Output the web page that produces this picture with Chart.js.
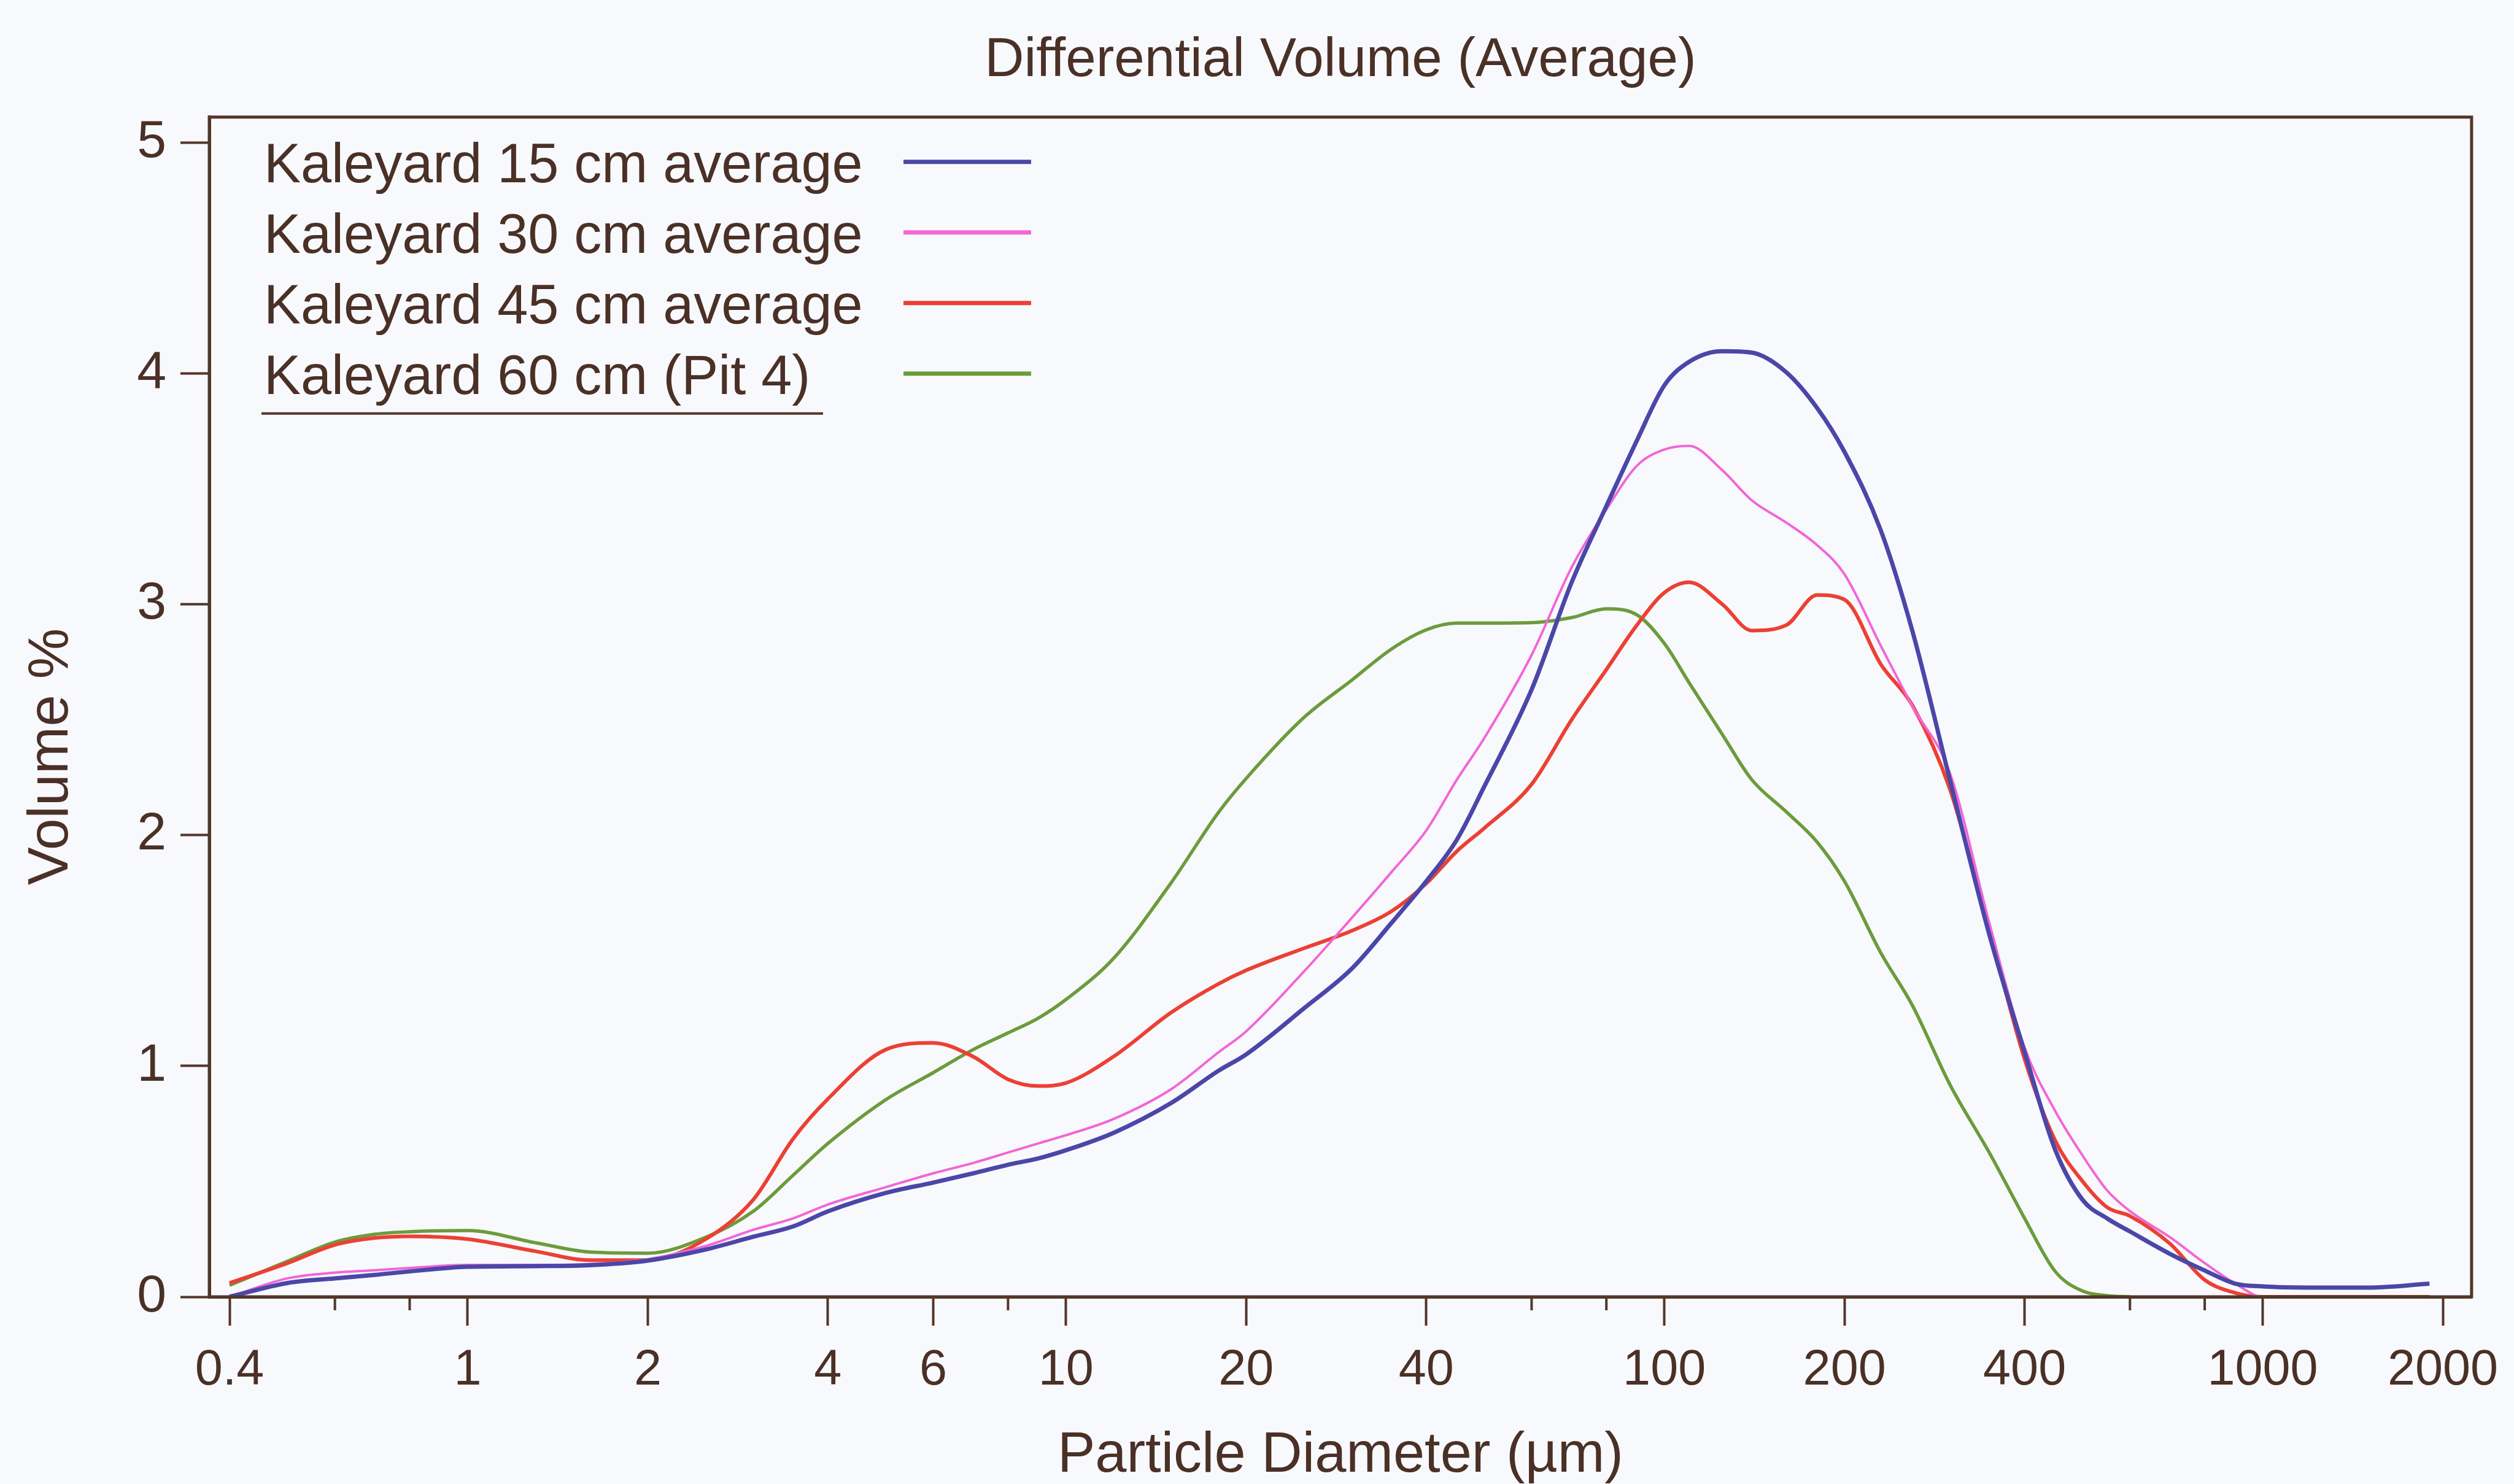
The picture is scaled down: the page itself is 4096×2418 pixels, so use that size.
<!DOCTYPE html>
<html>
<head>
<meta charset="utf-8">
<script src="https://cdn.jsdelivr.net/npm/chart.js@4.4.1/dist/chart.umd.min.js"></script>
<style>
  html, body { margin: 0; padding: 0; background: #f8f9fd; }
</style>
</head>
<body>
<canvas id="myChart" width="4096" height="2418"></canvas>
<script>
// particle diameter (µm), shared by all four curves
const sizes = [0.4, 0.5, 0.6, 0.7, 0.8, 1, 1.3, 1.6, 2, 2.5, 3, 3.5, 4, 5, 6, 7, 8, 9, 10, 12, 15, 18, 20, 25, 30, 35, 40, 45, 50, 60, 70, 80, 90, 100, 110, 125, 140, 160, 180, 200, 230, 260, 300, 350, 400, 450, 500, 550, 600, 700, 800, 900, 1000, 1200, 1500, 1900];

// volume % per size
const kaleyard15 = [0, 0.06, 0.08, 0.095, 0.11, 0.13, 0.133, 0.137, 0.157, 0.205, 0.26, 0.305, 0.37, 0.45, 0.495, 0.535, 0.572, 0.6, 0.635, 0.71, 0.84, 0.98, 1.05, 1.25, 1.42, 1.62, 1.8, 1.98, 2.21, 2.63, 3.095, 3.425, 3.71, 3.948, 4.05, 4.096, 4.09, 4.004, 3.85, 3.66, 3.32, 2.88, 2.24, 1.56, 1.06, 0.637, 0.42, 0.339, 0.283, 0.186, 0.114, 0.057, 0.045, 0.04, 0.04, 0.057];
const kaleyard30 = [0, 0.08, 0.105, 0.115, 0.125, 0.138, 0.138, 0.142, 0.163, 0.22, 0.29, 0.34, 0.4, 0.475, 0.535, 0.58, 0.625, 0.665, 0.7, 0.77, 0.9, 1.06, 1.15, 1.41, 1.64, 1.84, 2.02, 2.24, 2.42, 2.78, 3.16, 3.41, 3.6, 3.67, 3.686, 3.58, 3.45, 3.353, 3.256, 3.13, 2.82, 2.556, 2.27, 1.61, 1.08, 0.805, 0.612, 0.46, 0.371, 0.258, 0.146, 0.057, 0, 0, 0, 0];
const kaleyard45 = [0.06, 0.146, 0.225, 0.255, 0.262, 0.25, 0.197, 0.159, 0.159, 0.25, 0.42, 0.685, 0.857, 1.071, 1.1, 1.04, 0.942, 0.913, 0.926, 1.04, 1.232, 1.356, 1.414, 1.51, 1.585, 1.67, 1.79, 1.93, 2.03, 2.22, 2.5, 2.717, 2.91, 3.05, 3.095, 3.0, 2.886, 2.91, 3.04, 3.02, 2.74, 2.56, 2.2, 1.578, 1.03, 0.677, 0.5, 0.387, 0.35, 0.23, 0.073, 0.017, 0, 0, 0, 0];
const kaleyard60 = [0.05, 0.154, 0.237, 0.271, 0.282, 0.287, 0.234, 0.194, 0.189, 0.258, 0.37, 0.527, 0.664, 0.854, 0.971, 1.071, 1.143, 1.208, 1.288, 1.465, 1.795, 2.1, 2.245, 2.51, 2.67, 2.806, 2.889, 2.918, 2.918, 2.92, 2.942, 2.98, 2.954, 2.83, 2.66, 2.436, 2.24, 2.1, 1.97, 1.8, 1.49, 1.26, 0.92, 0.62, 0.34, 0.11, 0.025, 0.005, 0, null, null, null, null, null, null, null];

const seriesNames = ['Kaleyard 15 cm average', 'Kaleyard 30 cm average', 'Kaleyard 45 cm average', 'Kaleyard 60 cm (Pit 4)'];
const xTickValues = [0.4, 1, 2, 4, 6, 10, 20, 40, 100, 200, 400, 1000, 2000];
const xTickLabels = ['0.4', '1', '2', '4', '6', '10', '20', '40', '100', '200', '400', '1000', '2000'];
const xMinorTicks = [0.6, 0.8, 8, 60, 80, 600, 800];
const yTickValues = [0, 1, 2, 3, 4, 5];

const brown = '#533629';
const textColor = '#4a3026';
const FONT = "'Liberation Sans', Arial, sans-serif";

function points(values) {
  let out = [];
  sizes.forEach(function(s, i) {
    if (values[i] !== null) out.push({x: s, y: values[i]});
  });
  return out;
}

// frame, minor ticks, y title and the legend (text left, line sample right)
const extras = {
  id: 'extras',
  afterDraw: function(chart) {
    const ctx = chart.ctx;
    const area = chart.chartArea;
    const xs = chart.scales.x;
    ctx.save();
    ctx.strokeStyle = brown;
    ctx.lineWidth = 5;
    ctx.strokeRect(area.left, area.top, area.right - area.left, area.bottom - area.top);

    ctx.lineWidth = 4;
    xMinorTicks.forEach(function(v) {
      const px = xs.getPixelForValue(v);
      ctx.beginPath();
      ctx.moveTo(px, area.bottom);
      ctx.lineTo(px, area.bottom + 22);
      ctx.stroke();
    });

    ctx.fillStyle = textColor;
    ctx.font = '93px ' + FONT;
    ctx.textAlign = 'center';
    ctx.textBaseline = 'middle';
    ctx.translate(84, (area.top + area.bottom) / 2 + 81);
    ctx.rotate(-Math.PI / 2);
    ctx.fillText('Volume %', 0, 0);
    ctx.restore();

    ctx.save();
    ctx.font = '90px ' + FONT;
    ctx.textAlign = 'left';
    ctx.textBaseline = 'middle';
    chart.data.datasets.forEach(function(ds, i) {
      const y = area.top + 73 + i * 115;
      ctx.fillStyle = textColor;
      ctx.fillText(ds.label, area.left + 89, y + 8);
      ctx.strokeStyle = ds.borderColor;
      ctx.lineWidth = 7;
      ctx.beginPath();
      ctx.moveTo(area.left + 1131, y);
      ctx.lineTo(area.left + 1339, y);
      ctx.stroke();
    });
    ctx.strokeStyle = brown;
    ctx.lineWidth = 4;
    ctx.beginPath();
    ctx.moveTo(area.left + 85, area.top + 483);
    ctx.lineTo(area.left + 1000, area.top + 483);
    ctx.stroke();
    ctx.restore();
  }
};

new Chart('myChart', {
  type: 'line',
  data: {
    datasets: [
      {label: seriesNames[0], data: points(kaleyard15), borderColor: '#4b47a8', borderWidth: 7},
      {label: seriesNames[1], data: points(kaleyard30), borderColor: '#f266d6', borderWidth: 4},
      {label: seriesNames[2], data: points(kaleyard45), borderColor: '#ec4034', borderWidth: 6},
      {label: seriesNames[3], data: points(kaleyard60), borderColor: '#6b9c3c', borderWidth: 5.5}
    ]
  },
  options: {
    responsive: false,
    animation: false,
    devicePixelRatio: 1,
    layout: {padding: {left: 0, right: 58, top: 0, bottom: 0}},
    elements: {point: {radius: 0}, line: {cubicInterpolationMode: 'monotone'}},
    plugins: {
      legend: {display: false},
      tooltip: {enabled: false},
      title: {
        display: true,
        fullSize: false,
        text: 'Differential Volume (Average)',
        color: textColor,
        font: {family: FONT, size: 89, weight: 'normal', lineHeight: 1.2},
        padding: {top: 46, bottom: 38}
      }
    },
    scales: {
      x: {
        type: 'logarithmic',
        min: 0.37,
        max: 2234,
        afterBuildTicks: function(scale) {
          scale.ticks = xTickValues.map(function(v) { return {value: v}; });
        },
        afterFit: function(scale) { scale.height = 305; },
        ticks: {
          autoSkip: false,
          maxRotation: 0,
          padding: 25,
          color: textColor,
          font: {family: FONT, size: 81},
          callback: function(value) { return xTickLabels[xTickValues.indexOf(value)]; }
        },
        grid: {drawOnChartArea: false, tickLength: 47, tickColor: brown, tickWidth: 4},
        border: {color: brown, width: 5},
        title: {
          display: true,
          text: 'Particle Diameter (µm)',
          color: textColor,
          font: {family: FONT, size: 92, lineHeight: 0.8},
          padding: {top: 0, bottom: 9}
        }
      },
      y: {
        min: 0,
        max: 5.11,
        afterBuildTicks: function(scale) {
          scale.ticks = yTickValues.map(function(v) { return {value: v}; });
        },
        afterFit: function(scale) { scale.width = 341; },
        ticks: {
          padding: 23,
          color: textColor,
          font: {family: FONT, size: 86}
        },
        grid: {drawOnChartArea: false, tickLength: 47, tickColor: brown, tickWidth: 4},
        border: {color: brown, width: 5}
      }
    }
  },
  plugins: [extras]
});
</script>
</body>
</html>
